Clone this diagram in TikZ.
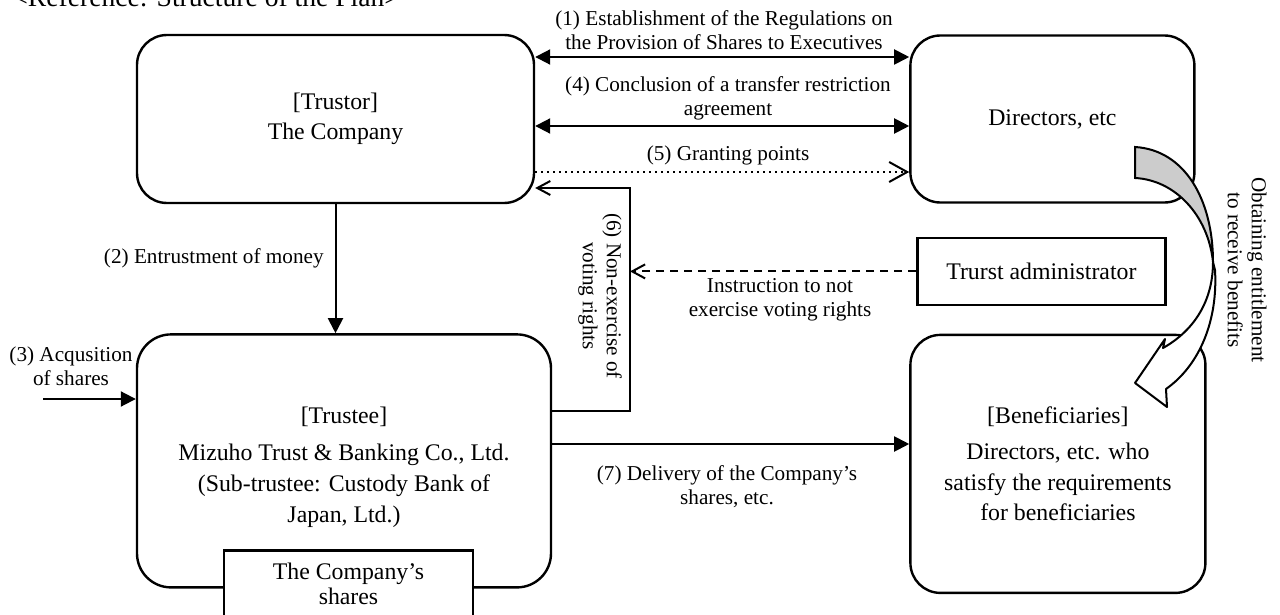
\documentclass[tikz,border=0pt]{standalone}
\usepackage{fontspec}
\setmainfont{Liberation Serif}
\usetikzlibrary{positioning,arrows.meta}
\begin{document}
\begin{tikzpicture}[x=0.5pt,y=-0.5pt]
    \tikzstyle{block} = [rectangle, draw, rounded corners=15pt, line width=1.2pt, align=center, font=\fontsize{11.9pt}{15.25pt}\selectfont]
    \tikzstyle{plain} = [rectangle, draw, fill=white, line width=1.2pt, align=center, font=\fontsize{11.9pt}{12.5pt}\selectfont]
    \tikzstyle{boxtext} = [align=center, inner sep=0pt, font=\fontsize{11.9pt}{15.5pt}\selectfont]
    \tikzstyle{lbl} = [align=center, inner sep=0pt, font=\fontsize{10.6pt}{12pt}\selectfont]
    \tikzstyle{arr} = [-{Triangle[length=7.5pt,width=7.5pt]}, line width=1pt]
    \tikzstyle{dblarr} = [{Triangle[length=7.5pt,width=7.5pt]}-{Triangle[length=7.5pt,width=7.5pt]}, line width=1pt]
    \tikzstyle{openarr} = [-{Straight Barb[length=6.5pt,width=7pt]}, line width=1pt]

    \useasboundingbox (0,0) rectangle (1280,615);
    \node [anchor=base west, inner sep=0pt, font=\fontsize{13.8pt}{16pt}\selectfont] (title) at (12,7) {<Reference: Structure of the Plan>};

    \node [block, minimum width=198.5pt, minimum height=84pt] (trustor) at (335.5,119) {[Trustor]\\The Company};
    \node [block, minimum width=142pt, minimum height=83.5pt, right=187pt of trustor] (directors) {Directors, etc};
    \node [block, rounded corners=17pt, minimum width=207pt, minimum height=126.5pt, below=64.5pt of trustor, xshift=4.25pt] (trustee) {};
    \node [boxtext] (trusteetext) at ([yshift=-3pt]trustee.center) {[Trustee]\\[3pt]Mizuho Trust \& Banking Co., Ltd.\\(Sub-trustee: Custody Bank of\\Japan, Ltd.)};
    \node [block, minimum width=147.5pt, minimum height=129pt, below=65pt of directors, xshift=2.75pt] (beneficiaries) {[Beneficiaries]\\[3pt]Directors, etc. who\\satisfy the requirements\\for beneficiaries};
    \node [plain, minimum width=124pt, minimum height=33.5pt, below=16.5pt of directors, xshift=-5.5pt] (admin) {Trurst administrator};
    \node [plain, minimum width=124.5pt, minimum height=33pt] (shares) at ([xshift=2.25pt,yshift=2.5pt]trustee.south) {The Company’s\\shares};

    \draw [dblarr] (trustor.east |- 0,57) -- (directors.west |- 0,57);
    \draw [dblarr] (trustor.east |- 0,126) -- (directors.west |- 0,126);
    \draw [dotted, line width=1pt, -{Straight Barb[length=9pt,width=10pt]}] (trustor.east |- 0,172) -- (directors.west |- 0,172);
    \draw [arr] (trustor.south) -- (trustor.south |- trustee.north);
    \coordinate (buy) at (43,399);
    \draw [arr] (buy) -- (trustee.west |- buy);
    \draw [arr] (trustee.east |- 0,444) -- (beneficiaries.west |- 0,444);
    \coordinate (turn) at (630,188);
    \draw [openarr] (trustee.east |- 0,411) -| (turn) -- (trustor.east |- turn);
    \draw [openarr, dash pattern=on 4pt off 3pt] (admin.west) -- (turn |- admin.west);

    \node [lbl] (lab1) at (724,30) {(1) Establishment of the Regulations on\\the Provision of Shares to Executives};
    \node [lbl] (lab4) at (728,98) {(4) Conclusion of a transfer restriction\\agreement};
    \node [lbl] (lab5) at (728,155) {(5) Granting points};
    \node [lbl, anchor=east] (lab2) at (324,258) {(2) Entrustment of money};
    \node [lbl] (lab3) at (71,366) {(3) Acqusition\\of shares};
    \node [lbl] (lab7) at (727,487) {(7) Delivery of the Company’s\\shares, etc.};
    \node [lbl] (labinstr) at (780,300) {Instruction to not\\exercise voting rights};
    \node [lbl, rotate=-90] (lab6) at (600,296) {(6) Non-exercise of\\voting rights};
    \node [lbl, rotate=-90] (labobtain) at (1247,270) {Obtaining entitlement\\to receive benefits};

    \draw [line width=1pt, fill=gray!40] (1135,147) .. controls (1185,150) and (1213,200) .. (1213,262) .. controls (1208,215) and (1175,180) .. (1135,178) -- cycle;
    \draw [line width=1pt, fill=white, line join=round] (1213,262) .. controls (1213,300) and (1195,330) .. (1163,348) -- (1165,339) -- (1135,383) -- (1167,407) -- (1166,389) .. controls (1200,365) and (1218,320) .. (1215,270) -- cycle;
\end{tikzpicture}
\end{document}
